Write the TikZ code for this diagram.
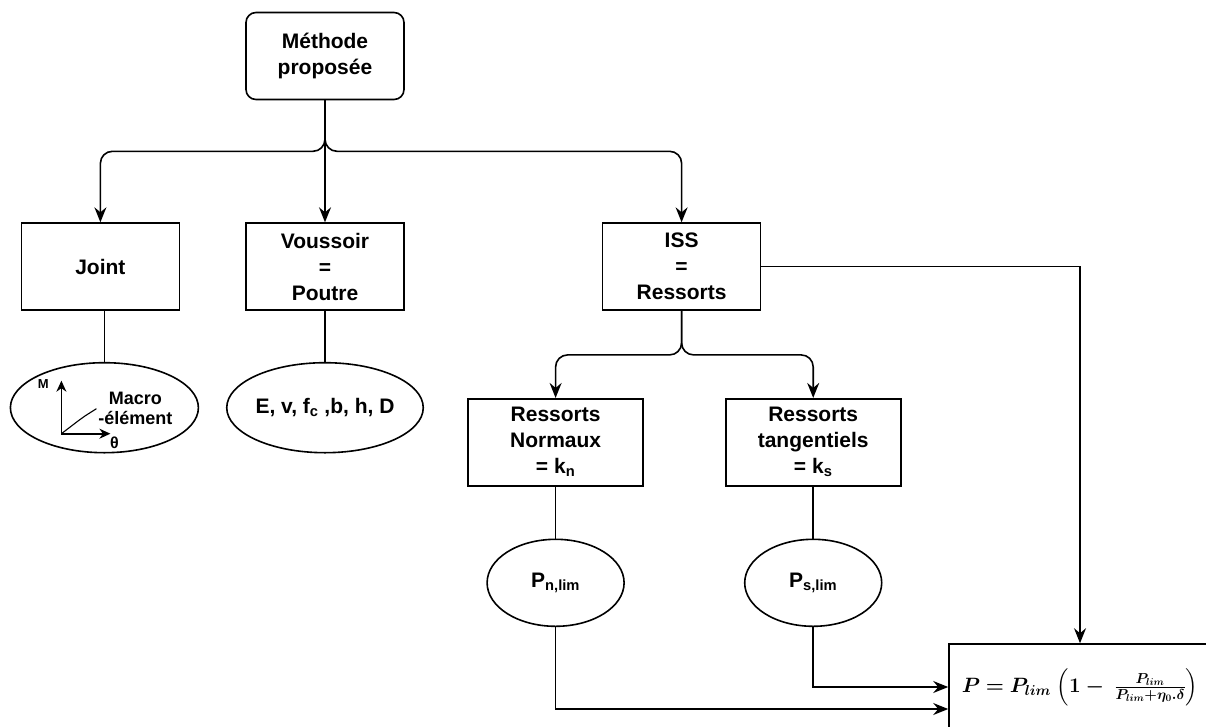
\documentclass[tikz,border=0pt]{standalone}
\usepackage[no-math]{fontspec}
\setmainfont{Liberation Sans}
\usepackage{amsmath}
\usepackage{bm}
\usepackage{tikz}
\usetikzlibrary{arrows.meta, positioning, shapes.geometric, calc}

\newcommand{\Plim}{\bm{P}_{\bm{lim}}}

\begin{document}
\begin{tikzpicture}[
  x=1pt, y=1pt,
  node distance=52pt and 65pt,
  every node/.style={font=\fontsize{21}{26}\selectfont\bfseries},
  box/.style={
    draw, line width=1.6pt, minimum width=158pt, minimum height=87pt,
    align=center, inner sep=2pt
  },
  start/.style={box, rounded corners=10pt},
  subbox/.style={box, minimum width=175pt},
  param/.style={
    ellipse, draw, line width=1.6pt, minimum width=188pt, minimum height=90pt,
    align=center, inner sep=0pt
  },
  limit/.style={param, minimum width=137pt, minimum height=87pt},
  formbox/.style={
    draw, line width=1.6pt, minimum width=262pt, minimum height=86pt,
    inner sep=0pt, font=\fontsize{20}{24}\selectfont
  },
  arrow/.style={-{Stealth[length=15pt, width=12pt, inset=5pt]}, line width=1.6pt},
  smallarrow/.style={-{Stealth[length=11pt, width=10pt, inset=3.5pt]}, line width=1.6pt},
  link/.style={line width=1.6pt},
  small/.style={font=\fontsize{18}{20}\selectfont\bfseries, align=center, inner sep=0pt},
  tiny/.style={font=\fontsize{13}{15}\selectfont\bfseries, inner sep=0pt}
]
  \useasboundingbox (0,0) rectangle (1206,-726);
  \clip (0,0) rectangle (1206,-726);

  % Noeud de depart
  \node[start] (meth) at (325,-56) {Méthode\\proposée};

  % Premier niveau
  \node[box, below=122pt of meth] (vous) {Voussoir\\=\\Poutre};
  \node[box, left=65pt of vous] (joint) {Joint};
  \node[box, right=197pt of vous] (iss) {ISS\\=\\Ressorts};

  % Parametres
  \node[param, below=51pt of joint, xshift=4pt] (jell) {};
  \node[param, below=51pt of vous] (vell) {E, v, f\textsubscript{c} ,b, h, D};

  % Ressorts
  \node[subbox, below=87pt of iss, xshift=-126pt] (norm) {Ressorts\\Normaux\\= k\textsubscript{n}};
  \node[subbox, right=81pt of norm] (tang) {Ressorts\\tangentiels\\= k\textsubscript{s}};
  \node[limit, below=52pt of norm] (pn) {P\textsubscript{n,lim}};
  \node[limit, below=52pt of tang] (ps) {P\textsubscript{s,lim}};

  % Loi finale
  \node[formbox] (form) at (1080,-687) {$\bm{P} \bm{=} \Plim\;\Bigl(\bm{1}\bm{-}\;\frac{\Plim}{\Plim\bm{+}\bm{\eta}_{\bm{0}}\bm{.}\bm{\delta}}\Bigr)$};

  % Courbe macro-element dans l'ellipse
  \coordinate (orig) at ($(jell.center)+(-43,-26)$);
  \draw[smallarrow] (orig) -- ++(0,53) coordinate (mtip);
  \draw[smallarrow] (orig) -- ++(49,0) coordinate (thtip);
  \draw[link, line width=1.1pt] (orig) -- ++(17,13) -- ++(7,5) -- ++(11,7);
  \node[tiny] (mlab) at ($(mtip)+(-18,-3)$) {M};
  \node[tiny, font=\fontsize{16}{18}\selectfont\bfseries] (thlab) at ($(thtip)+(4,-9)$) {θ};
  \node[small] (macro) at ($(jell.center)+(31,-1)$) {Macro\\-élément};

  % Fleches du noeud de depart
  \draw[arrow, rounded corners=12pt] (meth.south) -- ++(0,-51) -| (joint.north);
  \draw[arrow] (meth.south) -- (vous.north);
  \draw[arrow, rounded corners=12pt] (meth.south) -- ++(0,-51) -| (iss.north);

  % Liaisons vers les parametres
  \draw[link] (jell.north) -- (jell.north |- joint.south);
  \draw[link] (vous) -- (vell);

  % Branches ISS
  \draw[arrow, rounded corners=12pt] (iss.south) -- ++(0,-44) -| (norm.north);
  \draw[arrow, rounded corners=12pt] (iss.south) -- ++(0,-44) -| (tang.north);
  \draw[link] (norm) -- (pn);
  \draw[link] (tang) -- (ps);

  % Vers la loi finale
  \draw[arrow] (iss.east) -| (form.north);
  \draw[arrow] (ps.south) |- (form.west);
  \draw[arrow] (pn.south) |- ($(form.west)+(0,-22)$);

\end{tikzpicture}
\end{document}
